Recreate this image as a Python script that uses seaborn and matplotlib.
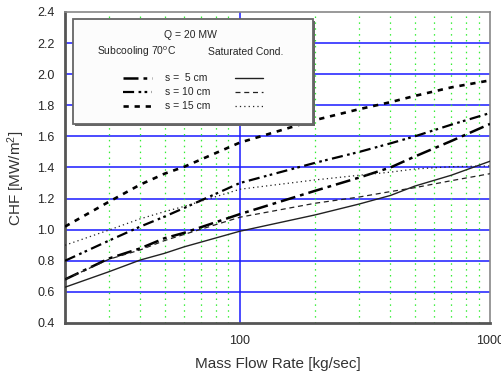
import numpy as np
import pandas as pd
import seaborn as sns
import matplotlib.pyplot as plt
from matplotlib.patches import Rectangle
from matplotlib.lines import Line2D
from matplotlib.ticker import FixedLocator, NullFormatter, MultipleLocator

# mass flow rate points [kg/sec]
flow = [20, 30, 40, 50, 60, 100, 200, 300, 400, 500, 700, 1000]

# CHF [MW/m2], subcooling 70 C
sub_5 = [0.68, 0.815, 0.88, 0.945, 0.98, 1.10, 1.25, 1.335, 1.40, 1.47, 1.57, 1.68]
sub_10 = [0.80, 0.93, 1.02, 1.084, 1.14, 1.30, 1.43, 1.50, 1.555, 1.60, 1.675, 1.75]
sub_15 = [1.02, 1.18, 1.29, 1.36, 1.405, 1.56, 1.705, 1.775, 1.82, 1.86, 1.915, 1.96]

# CHF [MW/m2], saturated condition
sat_5 = [0.63, 0.73, 0.805, 0.848, 0.89, 0.99, 1.095, 1.165, 1.22, 1.28, 1.35, 1.44]
sat_10 = [0.68, 0.81, 0.87, 0.93, 0.97, 1.08, 1.17, 1.21, 1.245, 1.27, 1.315, 1.36]
sat_15 = [0.90, 0.998, 1.07, 1.116, 1.15, 1.26, 1.32, 1.35, 1.37, 1.39, 1.405, 1.41]

spacing_labels = ["s =  5 cm", "s = 10 cm", "s = 15 cm"]

sns.set_style("white")
plt.rcParams['font.family'] = ['Liberation Sans', 'DejaVu Sans']
plt.rcParams['mathtext.fontset'] = 'custom'
plt.rcParams['mathtext.rm'] = 'Liberation Sans'
plt.rcParams['mathtext.it'] = 'Liberation Sans'

sub_styles = [(0, (6, 2, 1.5, 2)), (0, (5, 2, 1.2, 1.5, 1.2, 2)), (0, (2, 2.2))]
sub_lw = [1.8, 1.6, 1.9]
sat_styles = ['-', (0, (4, 3)), (0, (1, 2.5))]
sat_lw = [1.0, 0.9, 0.9]

fig = plt.figure(figsize=(5.02, 3.74), dpi=100)
ax = fig.add_axes([0.1295, 0.1364, 0.8465, 0.8316])

# grid
ax.set_xscale('log')
ax.set_xlim(20, 1000)
ax.set_ylim(0.4, 2.4)
for yv in np.arange(0.6, 2.21, 0.2):
    ax.axhline(yv, color='#1a1aff', lw=1.1, zorder=1)
ax.axvline(100, color='#1a1aff', lw=1.1, zorder=1)
minor_x = [30, 40, 50, 60, 70, 80, 90, 200, 300, 400, 500, 600, 700, 800, 900]
for xv in minor_x:
    ax.axvline(xv, color='#33ee33', lw=0.9, ls=(0, (1.2, 3.5)), zorder=1)

sub_sets = [sub_5, sub_10, sub_15]
sat_sets = [sat_5, sat_10, sat_15]
for i in range(3):
    sns.lineplot(x=flow, y=sub_sets[i], ax=ax, color='black', lw=sub_lw[i],
                 linestyle=sub_styles[i], zorder=3)
    sns.lineplot(x=flow, y=sat_sets[i], ax=ax, color='#222222', lw=sat_lw[i],
                 linestyle=sat_styles[i], zorder=3)

# ticks
ax.xaxis.set_major_locator(FixedLocator([100, 1000]))
ax.xaxis.set_minor_locator(FixedLocator(minor_x))
ax.xaxis.set_minor_formatter(NullFormatter())
ax.set_xticklabels(['100', '1000'])
ax.yaxis.set_major_locator(MultipleLocator(0.2))
ax.yaxis.set_minor_locator(MultipleLocator(0.1))
ax.yaxis.set_major_formatter(plt.FuncFormatter(lambda v, p: f"{v:.1f}"))
ax.tick_params(axis='both', which='major', labelsize=9, color='#333333')
ax.tick_params(axis='y', which='major', direction='inout', length=8, width=1)
ax.tick_params(axis='y', which='minor', direction='out', length=3, width=1, color='#333333')
ax.tick_params(axis='x', which='major', direction='out', length=4, width=1, pad=5)
ax.tick_params(axis='x', which='minor', direction='out', length=3, width=1, color='#333333')

for side in ['left', 'bottom']:
    ax.spines[side].set_color('#555555')
    ax.spines[side].set_linewidth(2)
for side in ['top', 'right']:
    ax.spines[side].set_color('#888888')
    ax.spines[side].set_linewidth(1.2)

ax.set_xlabel('Mass Flow Rate [kg/sec]', fontsize=11, color='#333333', labelpad=7)
ax.set_ylabel('CHF [MW/m$^2$]', fontsize=11, color='#333333')
ax.yaxis.set_label_coords(-0.09, 0.466)

# legend box
tr = ax.transAxes
ax.add_patch(Rectangle((0.024, 0.634), 0.565, 0.337, transform=tr,
                       facecolor='#666666', edgecolor='none', zorder=4))
ax.add_patch(Rectangle((0.019, 0.64), 0.565, 0.337, transform=tr,
                       facecolor='#fcfcfc', edgecolor='#666666', lw=1.3, zorder=5))
ax.text(0.294, 0.926, 'Q = 20 MW', transform=tr, ha='center', va='center',
        fontsize=7.5, zorder=6)
ax.text(0.075, 0.871, 'Subcooling 70$^{\\mathrm{o}}$C', transform=tr, ha='left',
        va='center', fontsize=7.5, zorder=6)
ax.text(0.336, 0.871, 'Saturated Cond.', transform=tr, ha='left', va='center',
        fontsize=7.5, zorder=6)
rows = [0.788, 0.743, 0.698]
for i in range(3):
    ax.add_line(Line2D([0.136, 0.205], [rows[i]] * 2, transform=tr, color='black',
                       lw=sub_lw[i], linestyle=sub_styles[i], zorder=6))
    ax.add_line(Line2D([0.40, 0.466], [rows[i]] * 2, transform=tr, color='#222222',
                       lw=sat_lw[i], linestyle=sat_styles[i], zorder=6))
    ax.text(0.235, rows[i], spacing_labels[i], transform=tr, ha='left', va='center',
            fontsize=7.5, zorder=6)

fig.savefig('out.png', dpi=100)
